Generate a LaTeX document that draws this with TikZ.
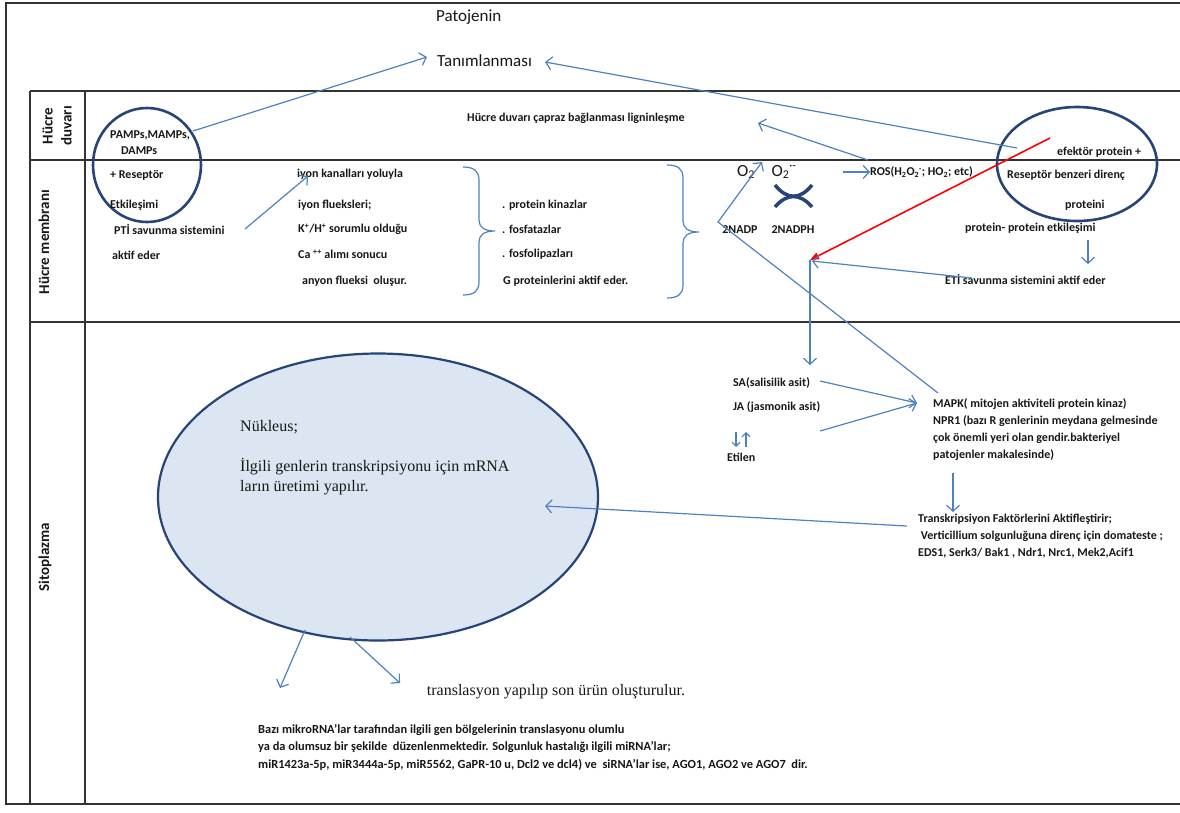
\documentclass[tikz,border=0pt]{standalone}
\usepackage{fontspec}
\setmainfont{Carlito}
\newfontfamily\nucserif{Liberation Serif}
\usetikzlibrary{arrows.meta,shapes.geometric}
\definecolor{arrblue}{RGB}{79,129,189}
\definecolor{circblue}{RGB}{38,68,120}
\definecolor{nucfill}{RGB}{220,230,242}
\definecolor{redline}{RGB}{255,0,0}
\definecolor{txt}{RGB}{20,25,20}
\begin{document}
\begin{tikzpicture}[x=1pt,y=-1pt,
  lbl/.style={font=\fontsize{12}{17}\selectfont\bfseries, inner sep=0pt, anchor=west, text=txt},
  blk/.style={font=\fontsize{12}{17}\selectfont\bfseries, inner sep=0pt, anchor=north west, align=left, text=txt},
  ttl/.style={font=\fontsize{17}{20}\selectfont, inner sep=0pt, anchor=west, text=txt},
  hdr/.style={font=\fontsize{15}{19}\selectfont\bfseries, inner sep=0pt, rotate=90, align=center, text=txt},
  nuct/.style={font=\nucserif\fontsize{16}{19}\selectfont, inner sep=0pt, anchor=west, text=txt},
  oxy/.style={font=\fontsize{17}{20}\selectfont, inner sep=0pt, text=txt},
  arr/.style={draw=arrblue, line width=1.2pt, -{Straight Barb[length=6pt,width=13pt]}},
  sarr/.style={draw=arrblue, line width=1.2pt, -{Straight Barb[length=4pt,width=8pt]}},
  ln/.style={draw=arrblue, line width=1.2pt},
  grid/.style={draw=black!80, line width=1.2pt},
  ring/.style={ellipse, draw=circblue, line width=2.6pt, inner sep=0pt},
  redarr/.style={draw=redline, line width=1.6pt, -{Triangle[length=9pt,width=7pt]}},
  arcs/.style={draw=circblue, line width=3.5pt}
]
\useasboundingbox (0,0) rectangle (1180,812);

% outer frame and table
\coordinate (ftl) at (6,3);
\coordinate (ftr) at (1180,3);
\coordinate (fbl) at (6,804);
\coordinate (fbr) at (1180,804);
\draw[grid] (ftr) -- (ftl) -- (fbl) -- (fbr);
\draw[grid] (30,91) -- (1180,91);
\draw[grid] (30,160) -- (1180,160);
\draw[grid] (30,322) -- (1180,322);
\draw[grid] (30,91) -- (30,804);
\draw[grid] (85,91) -- (85,804);

% row headers
\node[hdr] (hduv) at (57,126) {Hücre\\duvarı};
\node[hdr] (hmem) at (44,242) {Hücre membranı};
\node[hdr] (hsito) at (45,557) {Sitoplazma};

% title
\node[ttl] (patojen) at (436,17) {Patojenin};
\node[ttl] (tanim) at (437,61) {Tanımlanması};

% left ring
\node[ring, minimum width=108, minimum height=114] (lring) at (147,165) {};
\node[lbl] (pamps) at (110,135) {PAMPs,MAMPs,};
\node[lbl] (damps) at (121,151) {DAMPs};
\node[lbl] (resep) at (110,175) {+ Reseptör};
\node[lbl] (etki) at (110,205) {Etkileşimi};
\node[lbl] (pti) at (114,230) {PTİ savunma sistemini};
\node[lbl] (aktif) at (112,255) {aktif eder};

% column 1
\node[lbl] (iyon1) at (297,174) {iyon kanalları yoluyla};
\node[lbl] (iyon2) at (298,205) {iyon flueksleri;};
\node[lbl] (kh) at (298,229) {K\textsuperscript{+}/H\textsuperscript{+} sorumlu olduğu};
\node[lbl] (ca) at (298,254) {Ca \textsuperscript{++} alımı sonucu};
\node[lbl] (anyon) at (302,281) {anyon flueksi\ \ oluşur.};

% column 2
\node[lbl] (pk) at (502,205) {. protein kinazlar};
\node[lbl] (fos) at (502,229) {. fosfatazlar};
\node[lbl] (fosl) at (502,254) {. fosfolipazları};
\node[lbl] (gp) at (503,281) {G proteinlerini aktif eder.};

% braces
\draw[ln] (463,167) .. controls (474,167) and (479,171) .. (479,180) -- (479,220)
  .. controls (479,227) and (484,231) .. (495,231)
  .. controls (484,231) and (479,235) .. (479,242) -- (479,282)
  .. controls (479,291) and (474,295) .. (463,295);
\draw[ln] (667,165) .. controls (678,165) and (683,169) .. (683,178) -- (683,221)
  .. controls (683,228) and (688,232) .. (699,232)
  .. controls (688,232) and (683,236) .. (683,243) -- (683,285)
  .. controls (683,294) and (678,298) .. (667,298);

% wall text
\node[lbl] (duvar) at (467,118) {Hücre duvarı çapraz bağlanması ligninleşme};

% oxygen area
\node[oxy] (o2a) at (746,172) {O\textsubscript{2}};
\node[oxy] (o2b) at (784,172) {O\textsubscript{2}\textsuperscript{·-}};
\node[lbl, anchor=center] (nadp) at (740,230) {2NADP};
\node[lbl, anchor=center] (nadph) at (793,230) {2NADPH};
\coordinate (a1l) at (775,185);
\coordinate (a1r) at (812,185);
\coordinate (a2l) at (775,207);
\coordinate (a2r) at (812,207);
\draw[arcs] (a1l) .. controls (787,200) and (800,200) .. (a1r);
\draw[arcs] (a2l) .. controls (787,193) and (800,193) .. (a2r);
\node[lbl] (ros) at (870,172) {ROS(H\textsubscript{2}O\textsubscript{2}\textsuperscript{·}; HO\textsubscript{2}; etc)};

% right ring
\node[ring, minimum width=160, minimum height=114] (rring) at (1077,164) {};
\node[lbl] (efek) at (1057,152) {efektör protein +};
\node[lbl] (rbd) at (1007,175) {Reseptör benzeri direnç};
\node[lbl] (prot) at (1065,205) {proteini};
\node[lbl] (ppe) at (965,228) {protein- protein etkileşimi};
\node[lbl] (eti) at (945,280) {ETİ savunma sistemini aktif eder};

% cytoplasm right
\node[lbl] (sa) at (733,383) {SA(salisilik asit)};
\node[lbl] (ja) at (733,407) {JA (jasmonik asit)};
\node[lbl] (etilen) at (727,457) {Etilen};
\node[blk] (mapk) at (933,398) {MAPK( mitojen aktiviteli protein kinaz)\\NPR1 (bazı R genlerinin meydana gelmesinde\\çok önemli yeri olan gendir.bakteriyel\\patojenler makalesinde)};
\node[blk] (tf) at (918,514) {Transkripsiyon Faktörlerini Aktifleştirir;\\\ Verticillium solgunluğuna direnç için domateste ;\\EDS1, Serk3/ Bak1 , Ndr1, Nrc1, Mek2,Acif1};

% nucleus
\node[ellipse, draw=circblue, fill=nucfill, line width=2.2pt, inner sep=0pt, minimum width=440, minimum height=287] (nuc) at (378,497) {};
\node[nuct] (nk) at (240,427) {Nükleus;};
\node[nuct] (nk2) at (240,467) {İlgili genlerin transkripsiyonu için mRNA};
\node[nuct] (nk3) at (240,488) {ların üretimi yapılır.};

\node[nuct, anchor=center] (trans) at (556,692) {translasyon yapılıp son ürün oluşturulur.};
\node[blk, font=\fontsize{12.4}{17.5}\selectfont\bfseries] (mirna) at (258,724) {Bazı mikroRNA’lar tarafından ilgili gen bölgelerinin translasyonu olumlu\\ya da olumsuz bir şekilde\ \ düzenlenmektedir. Solgunluk hastalığı ilgili miRNA’lar;\\miR1423a-5p, miR3444a-5p, miR5562, GaPR-10 u, Dcl2 ve dcl4) ve\ \ siRNA’lar ise, AGO1, AGO2 ve AGO7\ \ dir.};

% connector coordinates
\coordinate (pampsOut) at (193,131);
\coordinate (tanimL) at (427,57);
\coordinate (rringOut) at (1017,148);
\coordinate (tanimR) at (545,62);
\coordinate (ptiOut) at (245,229);
\coordinate (iyonIn) at (308,176);
\coordinate (vtx) at (718,222);
\coordinate (o2tip) at (762,162);
\coordinate (mapkIn) at (938,393);
\coordinate (rosS) at (843,172);
\coordinate (rosUp) at (868,160);
\coordinate (duvarIn) at (758,123);
\coordinate (redS) at (1050,138);
\coordinate (junc) at (810,260);
\coordinate (etiS) at (972,278);
\coordinate (juncR) at (812,261);
\coordinate (vdown) at (810,365);
\coordinate (saOut) at (820,381);
\coordinate (jaOut) at (820,431);
\coordinate (mapkTip) at (917,403);
\coordinate (ppeD1) at (1088,240);
\coordinate (ppeD2) at (1088,264);
\coordinate (mapkD1) at (953,473);
\coordinate (mapkD2) at (953,512);
\coordinate (tfOut) at (907,526);
\coordinate (nucIn) at (545,506);
\coordinate (nb1) at (305,630);
\coordinate (nb1e) at (280,688);
\coordinate (nb2) at (350,637);
\coordinate (nb2e) at (400,683);
\coordinate (ed1) at (736,432);
\coordinate (ed2) at (736,447);
\coordinate (eu1) at (746,447);
\coordinate (eu2) at (746,432);

% connectors
\draw[arr] (pampsOut) -- (tanimL);
\draw[arr] (rringOut) -- (tanimR);
\draw[arr] (ptiOut) -- (iyonIn);
\draw[arr] (mapkIn) -- (vtx) -- (o2tip);
\draw[arr] (rosS) -- (ros.west);
\draw[arr] (rosUp) -- (duvarIn);
\draw[redarr] (redS) -- (junc);
\draw[arr] (etiS) -- (juncR);
\draw[arr] (junc) -- (vdown);
\draw[arr] (saOut) -- (mapkTip);
\draw[arr] (jaOut) -- (mapkTip);
\draw[arr] (ppeD1) -- (ppeD2);
\draw[arr] (mapkD1) -- (mapkD2);
\draw[arr] (tfOut) -- (nucIn);
\draw[arr] (nb1) -- (nb1e);
\draw[arr] (nb2) -- (nb2e);
\draw[sarr] (ed1) -- (ed2);
\draw[sarr] (eu1) -- (eu2);
\end{tikzpicture}
\end{document}
